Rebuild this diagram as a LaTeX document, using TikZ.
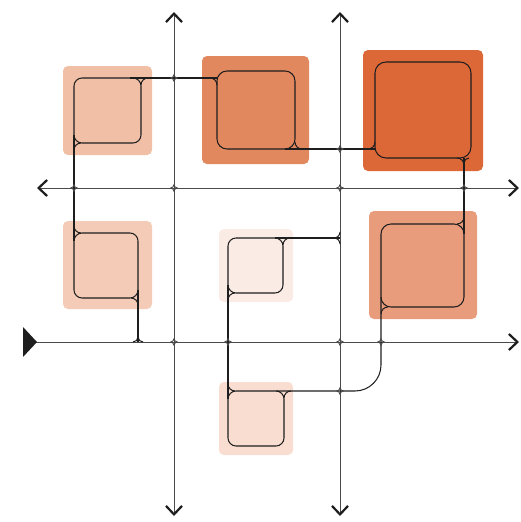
\documentclass[tikz,border=0pt]{standalone}
\usetikzlibrary{arrows.meta}
\definecolor{sqA}{HTML}{F1BFA6}
\definecolor{sqB}{HTML}{E2885E}
\definecolor{sqC}{HTML}{DD6837}
\definecolor{sqD}{HTML}{F3CBB7}
\definecolor{sqE}{HTML}{FAEBE5}
\definecolor{sqF}{HTML}{E99C7B}
\definecolor{sqG}{HTML}{F8DDD0}
\definecolor{trkc}{HTML}{1E1E1E}
\definecolor{axc}{HTML}{4A4A4A}
\definecolor{chevc}{HTML}{1E1E1E}
\newcommand\filq[6][trk]{\draw[#1] ({#2+#4*#6},#3) .. controls ({#2+#4*#6*0.448},#3) and (#2,{#3+#5*#6*0.448}) .. (#2,{#3+#5*#6});}
\newcommand\mrkq[2]{\filq[mrk]{#1}{#2}{1}{1}{3.5}\filq[mrk]{#1}{#2}{1}{-1}{3.5}\filq[mrk]{#1}{#2}{-1}{1}{3.5}\filq[mrk]{#1}{#2}{-1}{-1}{3.5}}
\begin{document}
\begin{tikzpicture}[x=1pt,y=-1pt,
  trk/.style={draw=trkc,line width=1.05pt},
  mrk/.style={draw=axc,line width=0.9pt},
  axis/.style={draw=axc,line width=0.9pt},
  chev/.tip={Straight Barb[length=8.5pt,width=16pt,line width=2.2pt,color=chevc]},
  sq/.style={rounded corners=5pt}]
\useasboundingbox (0,0) rectangle (520,522);
% coloured squares
\fill[sqA,sq] (63,66) rectangle (152,155);
\fill[sqB,sq] (202,56) rectangle (309,164);
\fill[sqC,sq] (363,50) rectangle (483,171);
\fill[sqD,sq] (63,221) rectangle (152,309);
\fill[sqE,sq] (219,229) rectangle (293,302);
\fill[sqF,sq] (369,211) rectangle (477,319);
\fill[sqG,sq] (219,382) rectangle (293,455);
% axes
\draw[axis,chev-chev] (174,12) -- (174,516);
\draw[axis,chev-chev] (340,12) -- (340,516);
\draw[axis,chev-chev] (37,188) -- (519,188);
\draw[axis,-chev] (30,342) -- (519,342);
\fill[chevc] (23,327) -- (37,342) -- (23,357) -- cycle;
% inner boxes
\draw[trk,rounded corners=8pt] (74,78) rectangle (141,143);
\draw[trk,rounded corners=10pt] (217,71) rectangle (295,149);
\draw[trk,rounded corners=11pt] (375,62) rectangle (471,158);
\draw[trk,rounded corners=8pt] (74,233) rectangle (138,298);
\draw[trk,rounded corners=8pt] (228,238) rectangle (283,293);
\draw[trk,rounded corners=10pt] (381,224) rectangle (464,307);
\draw[trk,rounded corners=8pt] (228,391) rectangle (284,446);
% extensions
\draw[trk] (130,78) -- (217,78);
\draw[trk] (285,149) -- (375,149);
\draw[trk] (464,158) -- (464,234);
\draw[trk,rounded corners=26pt] (381,297) -- (381,391) -- (276,391);
\draw[trk] (228,285) -- (228,399);
\draw[trk] (275,238) -- (340,238);
\draw[trk] (138,290) -- (138,342);
\draw[trk] (74,135) -- (74,241);
% junction fillets
\filq{141}{78}{1}{1}{7}
\filq{217}{78}{-1}{1}{7}
\filq{295}{149}{1}{-1}{7}
\filq{375}{149}{-1}{-1}{7}
\filq{464}{158}{-1}{1}{7}
\filq{464}{158}{1}{1}{5}
\filq{464}{224}{-1}{-1}{7}
\filq{381}{307}{1}{1}{7}
\filq{284}{391}{1}{1}{7}
\filq{228}{391}{1}{-1}{7}
\filq{228}{293}{1}{1}{7}
\filq{283}{238}{1}{1}{7}
\filq{340}{238}{-1}{-1}{6}
\filq{340}{238}{-1}{1}{6}
\filq{138}{298}{-1}{1}{7}
\filq{138}{342}{-1}{-1}{5}
\filq{138}{342}{1}{-1}{5}
\filq{74}{233}{1}{-1}{7}
\filq{74}{143}{1}{1}{7}
% crossing markers
\mrkq{174}{78}
\mrkq{340}{149}
\mrkq{74}{188}
\mrkq{174}{188}
\mrkq{340}{188}
\mrkq{464}{188}
\mrkq{174}{342}
\mrkq{228}{342}
\mrkq{340}{342}
\mrkq{381}{342}
\mrkq{340}{391}
\end{tikzpicture}
\end{document}
